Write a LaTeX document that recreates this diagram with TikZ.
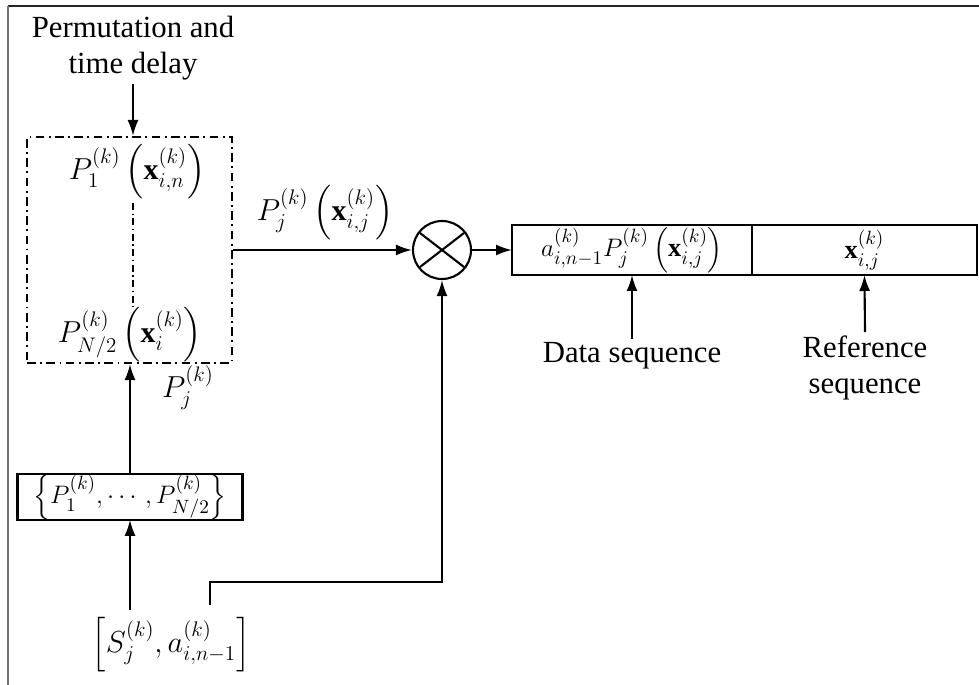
\documentclass[tikz,border=0pt]{standalone}
\usepackage{fontspec}
\setmainfont{Liberation Serif}
\usepackage{amsmath}
\usetikzlibrary{calc,arrows.meta}

\tikzset{
  conn/.style={line width=1.2pt, -{Latex[length=3.2mm,width=2.2mm]}},
  wire/.style={line width=1.2pt},
  dashdotline/.style={dash pattern=on 5pt off 2.5pt on 1pt off 2.5pt},
  cellbox/.style={draw, line width=1.2pt, minimum height=1cm, inner sep=0pt, outer sep=0pt},
  lbl/.style={font=\fontsize{17.5}{20.5}\selectfont, align=center, inner sep=2pt},
  mth/.style={font=\fontsize{17}{20}\selectfont, inner sep=1pt}
}

\begin{document}
\begin{tikzpicture}[x=0.02cm, y=-0.02cm]
			%%%%% START %%%%%
			\useasboundingbox (0,0) rectangle (979,685);
			
			% frame
			\draw[line width=0.8pt, black!85] (8,6) -- (979,6);
			\draw[line width=0.8pt, black!55] (8,6) -- (8,685);
			
			% permutation block
			\node[lbl] (perm) at (133,48) {Permutation and\\time delay};
			\node[draw, line width=1.2pt, dashdotline, minimum width=4.1cm, minimum height=4.52cm] (dbox) at (129.5,250) {};
			\node[mth] (p1lab) at (137,172) {$P_1^{(k)}\left(\mathbf{x}_{i,n}^{(k)}\right)$};
			\node[mth] (pnlab) at (130,335) {$P_{N/2}^{(k)}\left(\mathbf{x}_{i}^{(k)}\right)$};
			\coordinate (dtop) at (133,203);
			\coordinate (dbot) at (133,307);
			\draw[line width=0.8pt, dash pattern=on 4pt off 2pt on 0.8pt off 2pt] (dtop) -- (dbot);
			\coordinate (pin) at (133,84);
			
			% multiplier
			\node[draw, circle, line width=1.2pt, minimum size=1.16cm, inner sep=0pt] (mult) at (442,250) {};
			\draw[wire] ($(mult.center)+(-22,-17)$) -- ($(mult.center)+(22,17)$);
			\draw[wire] ($(mult.center)+(-22,17)$) -- ($(mult.center)+(22,-17)$);
			\node[mth] (pjx) at (325,213) {$P_j^{(k)}\left(\mathbf{x}_{i,j}^{(k)}\right)$};
			
			% output frame
			\node[cellbox, minimum width=4.8cm] (dcell) at (632,250) {\fontsize{15}{18}\selectfont$a_{i,n-1}^{(k)}P_j^{(k)}\left(\mathbf{x}_{i,j}^{(k)}\right)$};
			\node[cellbox, minimum width=4.5cm, anchor=west] (rcell) at (dcell.east) {\fontsize{15}{18}\selectfont$\mathbf{x}_{i,j}^{(k)}$};
			\node[lbl] (dlab) at (632,356) {Data sequence};
			\node[lbl] (rlab) at (865,368) {Reference\\sequence};
			
			% permutation set and inputs
			\node[cellbox, minimum width=4.5cm, minimum height=0.64cm] (pbox) at (130,497) {\fontsize{15}{18}\selectfont$\left\{P_1^{(k)},\cdots,P_{N/2}^{(k)}\right\}$};
			\node[mth] (pjlab) at (188,388) {$P_j^{(k)}$};
			\node[mth] (brack) at (171,645) {$\left[S_j^{(k)}, a_{i,n-1}^{(k)}\right]$};
			\coordinate (bin) at ($(brack.north -| pbox.south)+(0,-6)$);
			\coordinate (bout) at (210,605);
			
			% connectors
			\draw[conn] (pin) -- (pin |- dbox.north);
			\draw[conn] (dbox.east |- mult.west) -- (mult.west);
			\draw[conn] (mult.east) -- (dcell.west);
			\draw[conn] (dlab.north) -- (dcell.south);
			\draw[conn] (rlab.north) -- (rcell.south);
			\draw[conn] (pbox.north) -- (pbox.north |- dbox.south);
			\draw[conn] (bin) -- (pbox.south);
			\draw[conn] (bout) -- ++(0,-23) -| (mult.south);
			
			%%%%% END %%%%%
\end{tikzpicture}
\end{document}
